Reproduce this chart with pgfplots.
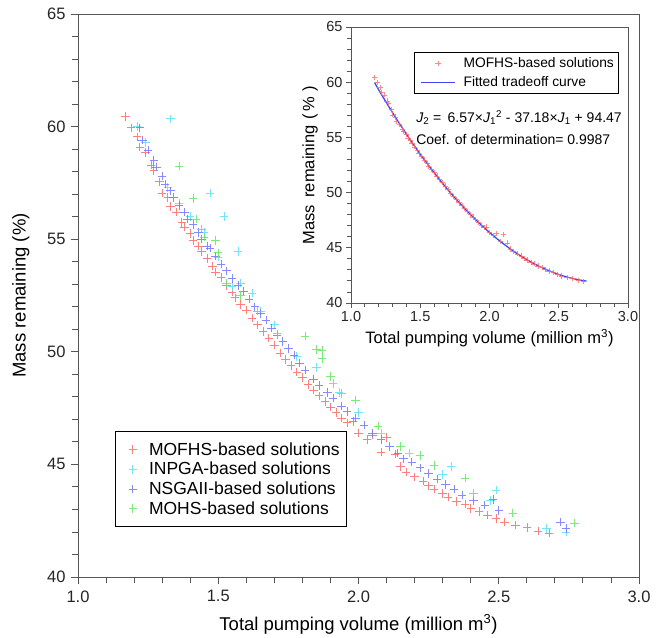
\documentclass[border=0pt]{standalone}
\usepackage{fontspec}
\setmainfont{Liberation Sans}
\usepackage{pgfplots}
\pgfplotsset{compat=1.18}
\usepackage{pgfplotstable}

\definecolor{mofhs}{RGB}{255,105,105}
\definecolor{inpga}{RGB}{90,225,245}
\definecolor{nsga}{RGB}{115,115,255}
\definecolor{mohs}{RGB}{100,230,100}
\definecolor{fitblue}{RGB}{70,70,240}
\definecolor{axgray}{RGB}{85,85,85}

% MOFHS-based solutions
\pgfplotstableread{
x y
1.17 60.45
1.19 59.95
1.21 59.55
1.22 59.10
1.24 58.85
1.26 58.30
1.27 58.05
1.29 57.55
1.30 57.05
1.32 56.85
1.33 56.45
1.35 56.20
1.37 55.75
1.38 55.55
1.40 55.25
1.41 54.95
1.43 54.70
1.44 54.45
1.46 54.15
1.48 53.80
1.49 53.55
1.51 53.30
1.53 52.95
1.55 52.65
1.56 52.40
1.58 52.10
1.60 51.85
1.62 51.50
1.64 51.20
1.66 50.90
1.68 50.60
1.70 50.30
1.72 49.95
1.74 49.65
1.76 49.40
1.78 49.10
1.80 48.85
1.82 48.55
1.84 48.30
1.86 48.05
1.88 47.80
1.90 47.55
1.92 47.30
1.94 47.05
1.96 46.85
1.98 46.90
2.00 46.40
2.03 46.10
2.05 46.30
2.08 45.55
2.10 46.20
2.13 45.45
2.15 44.90
2.17 44.65
2.20 44.45
2.23 44.25
2.25 44.05
2.27 43.90
2.30 43.70
2.32 43.55
2.35 43.35
2.38 43.25
2.40 43.05
2.43 42.90
2.46 42.75
2.49 42.60
2.52 42.45
2.56 42.30
2.60 42.20
2.64 42.05
2.68 41.95
}\mofhs

% INPGA-based solutions
\pgfplotstableread{
x y
1.21 60.00
1.24 59.30
1.33 60.35
1.32 57.30
1.36 56.60
1.40 56.00
1.47 57.05
1.45 55.30
1.52 56.00
1.50 54.20
1.57 54.45
1.58 53.05
1.55 52.90
1.62 52.60
1.65 51.80
1.70 51.20
1.78 49.80
1.85 49.30
1.93 48.20
2.00 47.30
2.08 46.40
2.18 45.50
2.33 44.90
2.30 44.55
2.49 43.85
2.47 43.40
2.67 42.15
2.74 42.00
}\inpga

% NSGAII-based solutions
\pgfplotstableread{
x y
1.22 59.95
1.23 59.40
1.25 58.95
1.27 58.50
1.28 58.20
1.30 57.80
1.31 57.45
1.33 57.15
1.34 56.85
1.36 56.50
1.38 56.20
1.39 55.90
1.41 55.65
1.43 55.30
1.44 55.00
1.46 54.70
1.47 54.60
1.49 54.25
1.51 53.90
1.53 53.60
1.55 53.25
1.57 52.95
1.59 52.70
1.61 52.35
1.63 52.00
1.65 51.70
1.67 51.40
1.69 51.05
1.71 50.75
1.73 50.45
1.75 50.15
1.77 49.85
1.79 49.50
1.81 49.20
1.84 48.80
1.86 48.50
1.89 48.20
1.91 47.95
1.94 47.60
1.96 47.35
1.99 47.05
2.02 46.75
2.05 46.40
2.08 46.10
2.11 45.80
2.14 45.50
2.16 45.25
2.19 45.10
2.22 44.85
2.25 44.60
2.28 44.35
2.31 44.10
2.34 43.90
2.37 43.65
2.41 43.40
2.45 43.20
2.48 43.45
2.50 42.95
2.72 42.45
2.74 42.15
}\nsga

% MOHS-based solutions
\pgfplotstableread{
x y
1.36 58.25
1.41 56.80
1.42 55.90
1.44 55.45
1.45 55.10
1.49 54.95
1.50 54.40
1.53 53.05
1.58 52.50
1.64 51.80
1.71 50.80
1.81 50.70
1.85 50.10
1.87 50.05
1.87 49.70
1.90 48.90
1.91 48.60
1.94 48.15
1.99 47.85
2.07 46.70
2.15 45.80
2.22 45.40
2.27 44.95
2.38 44.40
2.41 43.70
2.55 42.85
2.77 42.40
}\mohs

% Fitted tradeoff curve
\pgfplotstableread{
x y
1.17 59.96
1.20 59.31
1.25 58.26
1.30 57.24
1.35 56.25
1.40 55.30
1.45 54.37
1.50 53.48
1.55 52.63
1.60 51.80
1.65 51.01
1.70 50.25
1.75 49.53
1.80 48.83
1.85 48.17
1.90 47.55
1.95 46.95
2.00 46.39
2.05 45.86
2.10 45.37
2.15 44.90
2.20 44.47
2.25 44.08
2.30 43.71
2.35 43.38
2.40 43.08
2.45 42.82
2.50 42.58
2.55 42.38
2.60 42.22
2.65 42.08
2.70 41.98
}\fitcurve

\pgfplotsset{
  paretostyle/.style={
    scale only axis,
    xmin=1, xmax=3, ymin=40, ymax=65,
    xtick={1,1.5,2,2.5,3}, ytick={40,45,50,55,60,65},
    minor x tick num=4, minor y tick num=4,
    tick align=outside, tick pos=left,
    axis line style={axgray, line width=0.9bp},
    every tick/.style={axgray, line width=0.9bp},
    ticklabel style={text=black!85, /pgf/number format/assume math mode=true},
    xticklabel style={/pgf/number format/fixed, /pgf/number format/fixed zerofill,
      /pgf/number format/precision=1},
    legend cell align=left,
  },
  mainmarkleg/.style={legend image code/.code={\path (0bp,0bp) (26bp,0bp);
    \draw[##1] plot coordinates {(12bp,0bp)};}},
  insetmarkleg/.style={legend image code/.code={\path (0bp,0bp) (43bp,0bp);
    \draw[##1] plot coordinates {(20bp,0bp)};}},
  insetlineleg/.style={legend image code/.code={\path (0bp,0bp) (43bp,0bp);
    \draw[##1] (3bp,0bp) -- (37bp,0bp);}},
}

\begin{document}
\begin{tikzpicture}
\useasboundingbox (0,0) rectangle (664bp,638bp);

\begin{axis}[
  paretostyle,
  at={(78bp,61bp)}, anchor=south west,
  width=561bp, height=563bp,
  major tick length=7bp, minor tick length=6bp,
  ticklabel style={font=\fontsize{16.5bp}{19bp}\selectfont},
  xticklabel style={yshift=-3bp},
  yticklabel style={xshift=-2bp},
  label style={font=\fontsize{18.5bp}{22bp}\selectfont},
  xlabel={Total pumping volume (million m\textsuperscript{3})},
  ylabel={Mass remaining (\%)},
  xlabel style={at={(axis description cs:0.5,-0.084)}, anchor=center},
  ylabel style={at={(axis description cs:-0.102,0.5)}, anchor=center},
  legend style={at={(0.066,0.259)}, anchor=north west, draw=black,
    line width=0.8bp, font=\fontsize{17.5bp}{20.5bp}\selectfont,
    row sep=1.5bp, inner xsep=5bp, inner ysep=9bp},
  every axis plot/.append style={only marks, mark=+, mark size=4.2bp,
    line width=0.6bp, opacity=0.85},
]
\addplot[mofhs, mainmarkleg] table {\mofhs};
\addlegendentry{MOFHS-based solutions}
\addplot[inpga, mainmarkleg] table {\inpga};
\addlegendentry{INPGA-based solutions}
\addplot[nsga, mainmarkleg] table {\nsga};
\addlegendentry{NSGAII-based solutions}
\addplot[mohs, mainmarkleg] table {\mohs};
\addlegendentry{MOHS-based solutions}
\end{axis}

\begin{axis}[
  paretostyle,
  at={(351bp,335bp)}, anchor=south west,
  width=277bp, height=276bp,
  axis background/.style={fill=white},
  major tick length=5bp, minor tick length=4bp,
  ticklabel style={font=\fontsize{14.5bp}{17bp}\selectfont},
  label style={font=\fontsize{16.5bp}{19bp}\selectfont},
  xlabel={Total pumping volume (million m\textsuperscript{3})},
  ylabel={Mass\, remaining\,\,(\,\%\,\,)},
  xlabel style={at={(axis description cs:0.5,-0.128)}, anchor=center},
  ylabel style={at={(axis description cs:-0.148,0.5)}, anchor=center},
  legend style={at={(0.227,0.909)}, anchor=north west, draw=black,
    line width=0.8bp, font=\fontsize{13.8bp}{16.5bp}\selectfont,
    row sep=3.5bp, inner sep=3bp},
]
\addplot[mofhs, only marks, mark=+, mark size=2.6bp, line width=0.5bp, opacity=0.8,
  insetmarkleg] table {\mofhs};
\addlegendentry{MOFHS-based solutions}
\addplot[fitblue, no markers, line width=1.3bp, insetlineleg] table {\fitcurve};
\addlegendentry{Fitted tradeoff curve}
\node[anchor=west, font=\fontsize{14bp}{17bp}\selectfont, inner sep=0pt]
  at (axis cs:1.47,56.8)
  {\textit{J}\textsubscript{2} = \,6.57×\textit{J}\textsubscript{1}\textsuperscript{2} - 37.18×\textit{J}\textsubscript{1} + 94.47};
\node[anchor=west, font=\fontsize{14bp}{17bp}\selectfont, inner sep=0pt]
  at (axis cs:1.47,54.8) {Coef. of determination= 0.9987};
\end{axis}
\end{tikzpicture}
\end{document}
